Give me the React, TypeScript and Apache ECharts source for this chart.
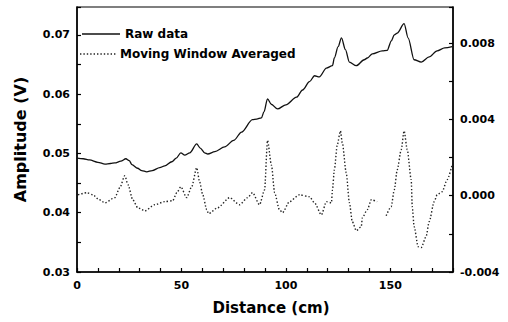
import React, { useEffect, useRef } from "react";
import * as echarts from "echarts";

const rawDistance = [0, 3, 6, 10, 13.4, 16, 18.1, 21, 23.4, 25, 26.3, 29, 31, 33.4, 36, 39.6, 42, 45.4, 47.5, 49.7, 51.6, 54, 57.3, 59, 61.1, 62.6, 66, 70.7, 75, 78.8, 84, 86, 88.3, 89.5, 91.2, 93, 96, 100, 105.1, 108, 111.3, 113.7, 116, 119.4, 122.3, 123.2, 125, 126.6, 128.5, 130.4, 133.7, 137.5, 139, 141.4, 146.1, 148.5, 150.5, 151.9, 153.3, 156.6, 158.5, 161.4, 164.8, 168.6, 172.4, 176, 179.6];
const rawAmplitude = [0.0492, 0.0491, 0.0489, 0.0485, 0.0482, 0.0483, 0.0484, 0.0487, 0.0491, 0.0488, 0.0481, 0.0475, 0.0471, 0.0469, 0.0471, 0.0476, 0.0479, 0.0486, 0.0492, 0.0501, 0.0497, 0.0501, 0.0516, 0.0509, 0.0501, 0.0499, 0.0503, 0.0511, 0.0522, 0.0536, 0.0557, 0.0558, 0.056, 0.057, 0.0592, 0.0583, 0.0575, 0.0582, 0.0595, 0.0607, 0.0621, 0.0631, 0.0629, 0.0644, 0.0648, 0.0661, 0.068, 0.0695, 0.0675, 0.0654, 0.0648, 0.0658, 0.0661, 0.0668, 0.0673, 0.0674, 0.069, 0.07, 0.0703, 0.0719, 0.0695, 0.0658, 0.0654, 0.0663, 0.0673, 0.0678, 0.068];

const avgDistance = [0.5, 4.8, 7.6, 10.5, 13.4, 18.1, 20.5, 22.9, 24.4, 26.7, 29.1, 32.5, 37.2, 42.0, 45.8, 47.8, 49.7, 52.5, 54.9, 57.3, 58.7, 60.2, 62.1, 63.0, 67.3, 73.1, 77.8, 81.7, 84.0, 87.4, 89.8, 91.2, 93.1, 94.6, 96.9, 98.4, 101.7, 106.5, 111.3, 113.7, 117.0, 119.4, 121.8, 122.3, 123.2, 124.6, 126.1, 127.0, 128.9, 130.4, 131.8, 133.7, 136.1, 136.6, 139.0, 140.9, 143.7, 146, 148.0, 150.4, 151.9, 153.3, 155.2, 156.6, 158.1, 160.0, 160.5, 161.4, 163.3, 164.8, 167.1, 168.6, 171.0, 172.4, 174.8, 177.2, 179.6];
const avgAmplitude = [0.00005, 0.00016, 0.00005, -0.0002, -0.00037, -0.0001, 0.00042, 0.00105, 0.00058, -0.00021, -0.00063, -0.00079, -0.00047, -0.00031, -0.00026, 0.00016, 0.00047, -0.0001, 0.00047, 0.00147, 0.00073, 0.00005, -0.00073, -0.00094, -0.00063, -0.0001, -0.00047, -0.0001, 0.00016, -0.00047, 0.00031, 0.0029, 0.0016, 0.00016, -0.00073, -0.00089, -0.00031, 0.00005, -0.00005, -0.00037, -0.001, -0.00031, -0.00037, 0.00031, 0.00136, 0.00267, 0.0034, 0.00278, 0.0012, -0.00037, -0.00136, -0.00183, -0.00162, -0.00115, -0.00073, -0.00021, -0.00031, null, -0.00105, -0.00058, 0.00031, 0.00136, 0.00241, 0.0034, 0.00241, 0.00084, -0.00058, -0.00162, -0.00267, -0.00272, -0.00215, -0.00136, -0.00031, 0.00005, 0.00021, 0.00084, 0.00162];

const seriesNames = ["Raw data", "Moving Window Averaged"];
const xTickLabels = [0, 50, 100, 150];
const leftTickLabels = [0.03, 0.04, 0.05, 0.06, 0.07];
const rightTickLabels = [-0.004, 0.0, 0.004, 0.008];

const FONT = "DejaVu Sans";
const DOT = [1.4, 2.0];

function matchLabel(v: number, list: number[], digits: number) {
  for (const t of list) {
    if (Math.abs(v - t) < 1e-7) return t.toFixed(digits);
  }
  return "";
}

export default function App() {
  const ref = useRef<HTMLDivElement>(null);
  useEffect(() => {
    if (!ref.current) return;
    const chart = echarts.init(ref.current, undefined, { renderer: "svg" });
    const rawData = rawDistance.map((d, i) => [d, rawAmplitude[i]]);
    const avgData = avgDistance.map((d, i) => [d, avgAmplitude[i] === null ? "-" : avgAmplitude[i]]);
    const tickStyle = { show: true, inside: true, length: 4, lineStyle: { color: "#000", width: 1.2 } };
    const labelStyle = { color: "#000", fontFamily: FONT, fontWeight: "bold" as const, fontSize: 11 };
    const legendText = { fill: "#000", fontFamily: FONT, fontWeight: "bold", fontSize: 12, verticalAlign: "middle" as const };
    chart.setOption({
      animation: false,
      backgroundColor: "#fff",
      grid: { left: 77, right: 55, top: 7, bottom: 50, show: true, borderColor: "#000", borderWidth: 1.2 },
      graphic: [
        { type: "line", shape: { x1: 82, y1: 34, x2: 120, y2: 34 }, style: { stroke: "#111", lineWidth: 1.3 } },
        { type: "text", x: 125, y: 34, style: { text: seriesNames[0], ...legendText } },
        { type: "line", shape: { x1: 80, y1: 54, x2: 116, y2: 54 }, style: { stroke: "#222", lineWidth: 1.4, lineDash: DOT } },
        { type: "text", x: 120, y: 54, style: { text: seriesNames[1], ...legendText } },
      ],
      xAxis: {
        type: "value",
        min: 0,
        max: 180,
        interval: 10,
        name: "Distance (cm)",
        nameLocation: "middle",
        nameGap: 28,
        nameTextStyle: { color: "#000", fontFamily: FONT, fontWeight: "bold", fontSize: 15, padding: [0, 0, 0, 12] },
        axisLine: { show: true, onZero: false, lineStyle: { color: "#000", width: 1.5 } },
        axisTick: tickStyle,
        axisLabel: { ...labelStyle, margin: 8, formatter: (v: number) => matchLabel(v, xTickLabels, 0) },
        splitLine: { show: false },
      },
      yAxis: [
        {
          type: "value",
          position: "left",
          min: 0.03,
          max: 0.0747,
          interval: 0.005,
          name: "Amplitude (V)",
          nameLocation: "middle",
          nameGap: 49,
          nameTextStyle: { color: "#000", fontFamily: FONT, fontWeight: "bold", fontSize: 16 },
          axisLine: { show: true, onZero: false, lineStyle: { color: "#000", width: 1.5 } },
          axisTick: tickStyle,
          axisLabel: { ...labelStyle, margin: 7, formatter: (v: number) => matchLabel(v, leftTickLabels, 2) },
          splitLine: { show: false },
        },
        {
          type: "value",
          position: "right",
          min: -0.004,
          max: 0.0099,
          interval: 0.002,
          axisLine: { show: true, onZero: false, lineStyle: { color: "#000", width: 1.5 } },
          axisTick: tickStyle,
          axisLabel: { ...labelStyle, margin: 7, formatter: (v: number) => matchLabel(v, rightTickLabels, 3) },
          splitLine: { show: false },
        },
      ],
      series: [
        {
          name: seriesNames[0],
          type: "line",
          yAxisIndex: 0,
          data: rawData,
          symbol: "none",
          smooth: 0.3,
          smoothMonotone: "x",
          lineStyle: { color: "#111", width: 1.3, type: "solid" },
          itemStyle: { color: "#111" },
        },
        {
          name: seriesNames[1],
          type: "line",
          yAxisIndex: 1,
          data: avgData,
          symbol: "none",
          smooth: 0.25,
          smoothMonotone: "x",
          connectNulls: false,
          lineStyle: { color: "#222", width: 1.4, type: DOT },
          itemStyle: { color: "#222" },
        },
      ],
    });
    return () => chart.dispose();
  }, []);
  return <div ref={ref} style={{ width: 508, height: 322, position: "absolute", left: 0, top: 0 }} />;
}
